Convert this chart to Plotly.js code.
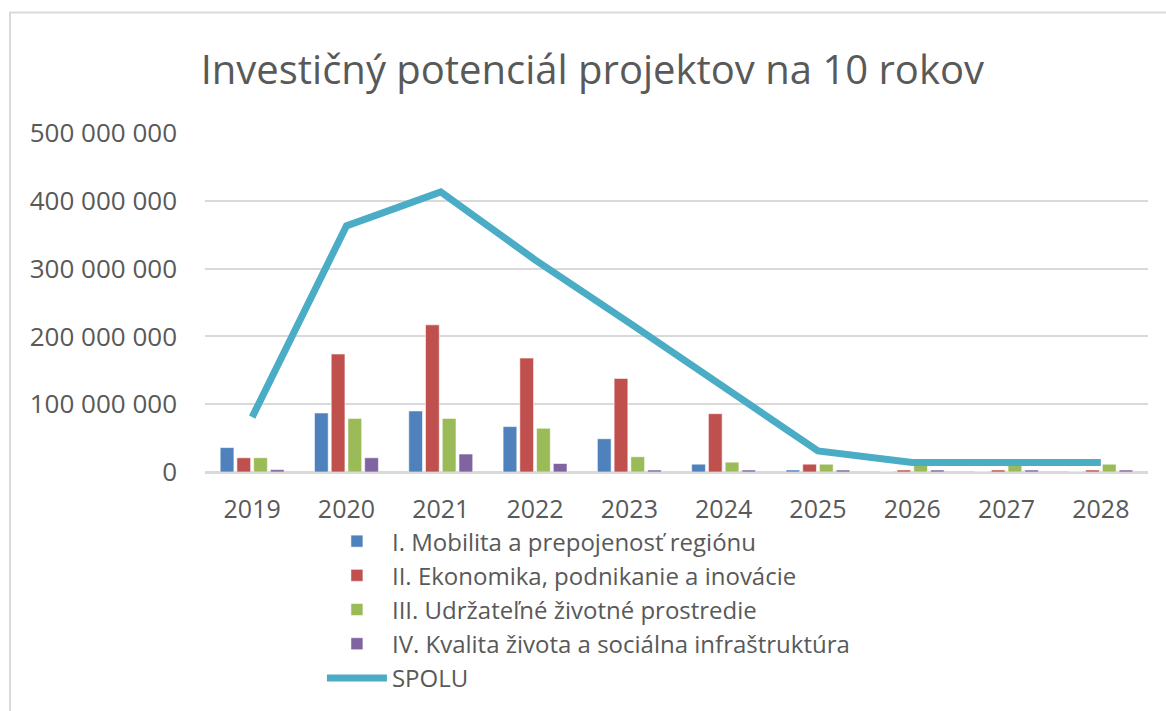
<!DOCTYPE html>
<html>
<head>
<meta charset="utf-8">
<script src="https://cdn.plot.ly/plotly-3.0.1.min.js"></script>
<style>
  html, body { margin: 0; padding: 0; background: #ffffff; }
  #chart { width: 1166px; height: 711px; }
</style>
</head>
<body>
<div id="chart"></div>
<script>
// ---- data ----
const years = ['2019', '2020', '2021', '2022', '2023', '2024', '2025', '2026', '2027', '2028'];
const seriesNames = [
  'I. Mobilita a prepojenosť regiónu',
  'II. Ekonomika, podnikanie a inovácie',
  'III. Udržateľné životné prostredie',
  'IV. Kvalita života a sociálna infraštruktúra'
];
const totalName = 'SPOLU';
const mobilita   = [36000000, 87000000, 90000000, 67000000, 49000000, 11500000, 3000000, 0, 0, 0];
const ekonomika  = [21000000, 174000000, 217000000, 168000000, 138000000, 86000000, 11500000, 3000000, 3000000, 3000000];
const udrzatelne = [21000000, 79000000, 79000000, 64500000, 22500000, 14500000, 11500000, 11000000, 11000000, 11500000];
const kvalita    = [3500000, 21000000, 26500000, 12500000, 3000000, 3000000, 3000000, 3000000, 3000000, 3000000];
const spolu      = [81000000, 363000000, 413000000, 313000000, 220000000, 127000000, 31000000, 14000000, 14000000, 14000000];
const yTicks     = [0, 100000000, 200000000, 300000000, 400000000, 500000000];
const chartTitle = 'Investičný potenciál projektov na 10 rokov';

// ---- styles ----
const barColors = ['#4F81BD', '#C0504D', '#9BBB59', '#8064A2'];
const lineColor = '#4BACC6';
const textColor = '#595959';
const gridColor = '#D9D9D9';
const fontFamily = 'Open Sans, Lato, sans-serif';

const barValues = [mobilita, ekonomika, udrzatelne, kvalita];
const traces = barValues.map((vals, i) => ({
  type: 'bar',
  name: seriesNames[i],
  x: years,
  y: vals,
  marker: { color: barColors[i], line: { color: 'rgba(255,255,255,0.55)', width: 1 } },
  hoverinfo: 'x+y+name'
}));
traces.push({
  type: 'scatter',
  mode: 'lines',
  name: totalName,
  x: years,
  y: spolu,
  line: { color: lineColor, width: 7 }
});

const layout = {
  width: 1166,
  height: 711,
  paper_bgcolor: '#ffffff',
  plot_bgcolor: '#ffffff',
  separators: '. ',
  font: { family: fontFamily, color: textColor },
  margin: { l: 205, r: 18, t: 133, b: 239, pad: 0, autoexpand: false },
  title: {
    text: chartTitle,
    font: { family: fontFamily, size: 40, color: textColor },
    x: 0.508, xanchor: 'center', xref: 'container',
    y: 0.902, yanchor: 'middle', yref: 'container'
  },
  barmode: 'group',
  bargap: 0.29,
  bargroupgap: 0.18,
  xaxis: {
    type: 'category',
    tickfont: { size: 25, color: textColor },
    showgrid: false,
    showline: true,
    linecolor: gridColor,
    linewidth: 2,
    ticks: '',
    ticklabelstandoff: 14,
    automargin: false,
    fixedrange: true
  },
  yaxis: {
    range: [0, 500000000],
    tickvals: yTicks,
    tickformat: ',d',
    tickfont: { size: 26, color: textColor },
    showgrid: true,
    gridcolor: gridColor,
    gridwidth: 2,
    zeroline: true,
    zerolinecolor: gridColor,
    zerolinewidth: 2,
    showline: false,
    ticks: '',
    ticklabelstandoff: 27,
    automargin: false,
    fixedrange: true
  },
  showlegend: true,
  legend: {
    orientation: 'v',
    x: 0.124, xanchor: 'left',
    y: 0.270, yanchor: 'top', yref: 'container',
    font: { size: 24, color: textColor },
    traceorder: 'normal',
    itemwidth: 60,
    tracegroupgap: 0,
    bgcolor: 'rgba(0,0,0,0)'
  },
  shapes: [{
    type: 'rect', xref: 'paper', yref: 'paper',
    x0: -0.2068, x1: 1.05, y0: -1.0, y1: 1.3555,
    line: { color: gridColor, width: 2 },
    fillcolor: 'rgba(0,0,0,0)', layer: 'below'
  }]
};

Plotly.newPlot('chart', traces, layout, { displayModeBar: false, staticPlot: true });
</script>
</body>
</html>
